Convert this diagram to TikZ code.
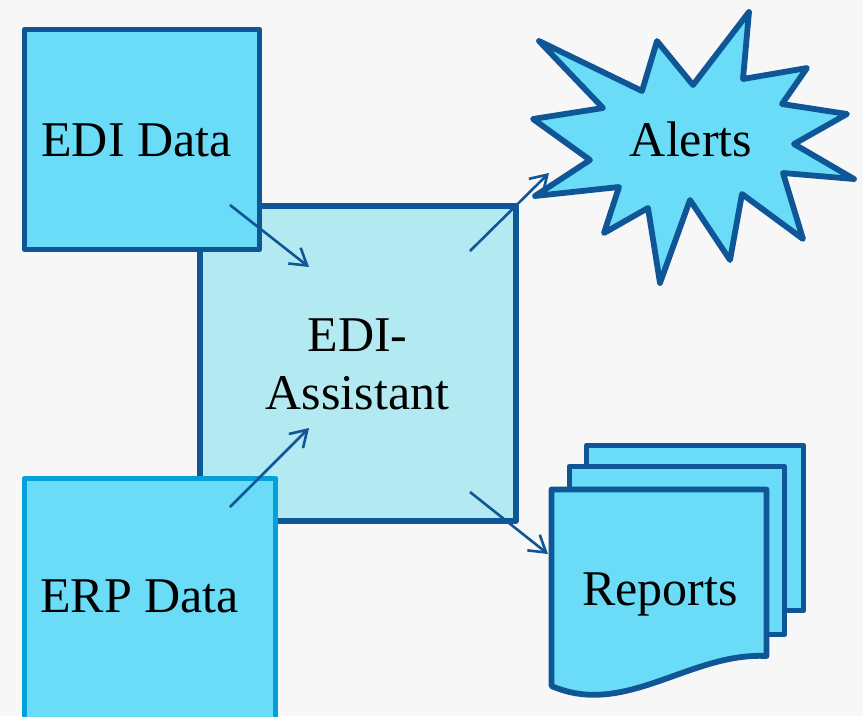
\documentclass[tikz,border=0pt]{standalone}
\usepackage{fontspec}
\setmainfont{Liberation Serif}
\usetikzlibrary{arrows.meta}
\definecolor{bg}{HTML}{F7F7F7}
\definecolor{darkb}{HTML}{0F5696}
\definecolor{midb}{HTML}{03A0D9}
\definecolor{cyanfill}{HTML}{6ADCF7}
\definecolor{palefill}{HTML}{B3E9F1}
\begin{document}
\begin{tikzpicture}[x=1pt,y=-1pt,
  box/.style={draw=darkb, line width=5.8pt, fill=cyanfill, rectangle, inner sep=0pt, line join=round},
  shapeline/.style={draw=darkb, line width=5.8pt, fill=cyanfill, line join=round},
  lbl/.style={font=\fontsize{50}{58}\selectfont, inner sep=0pt, text=black},
  conn/.style={draw=darkb, line width=2.6pt, -{Straight Barb[length=16pt,width=20pt,line width=2.6pt]}}
]
\useasboundingbox[fill=bg] (0,0) rectangle (863,716);

% central box
\node[box, fill=palefill, minimum width=316pt, minimum height=315pt] (assist) at (358,363.5) {};
% data boxes
\node[box, minimum width=235pt, minimum height=220pt] (edi) at (142,139.5) {};
\node[box, draw=midb, minimum width=251pt, minimum height=244pt] (erp) at (150,600.5) {};

% star
\path[shapeline] (539,41) -- (642,91) -- (657,41) -- (693,85) -- (749,12) -- (743,79)
  -- (807,68) -- (782,104) -- (847,114) -- (794,144) -- (854,179) -- (783,173)
  -- (803,239) -- (742,194) -- (730,260) -- (690,200) -- (660,283) -- (648,208)
  -- (604,233) -- (619,187) -- (535,196) -- (590,160) -- (533,119) -- (603,108) -- cycle;
\coordinate (alerts) at (691,142);

% reports stack
\path[shapeline] (586.5,445.5) rectangle (803.5,610.5);
\path[shapeline] (569.5,466.5) rectangle (784.5,634.5);
\path[shapeline] (551.5,489.5) -- (766.5,489.5) -- (766.5,656)
  .. controls (690,652) and (625,718) .. (551.5,686) -- cycle;
\coordinate (reports) at (660,591);

% labels
\node[lbl, anchor=base] (ediT) at (136.5,156) {EDI Data};
\node[lbl, anchor=base] (erpT) at (139.5,612) {ERP Data};
\node[lbl, align=center, anchor=center] (assistT) at (357.5,364) {EDI-\\Assistant};
\node[lbl, anchor=base] (alertsT) at (691,156) {Alerts};
\node[lbl, anchor=base] (reportsT) at (660,605) {Reports};

% connector end points
\coordinate (c1s) at (230,205); \coordinate (c1e) at (309,267);
\coordinate (c2s) at (230,507); \coordinate (c2e) at (309,428);
\coordinate (c3s) at (470,251); \coordinate (c3e) at (549,173);
\coordinate (c4s) at (470,492); \coordinate (c4e) at (548,554);

\draw[conn] (c1s) -- (c1e);
\draw[conn] (c2s) -- (c2e);
\draw[conn] (c3s) -- (c3e);
\draw[conn] (c4s) -- (c4e);
\end{tikzpicture}
\end{document}
